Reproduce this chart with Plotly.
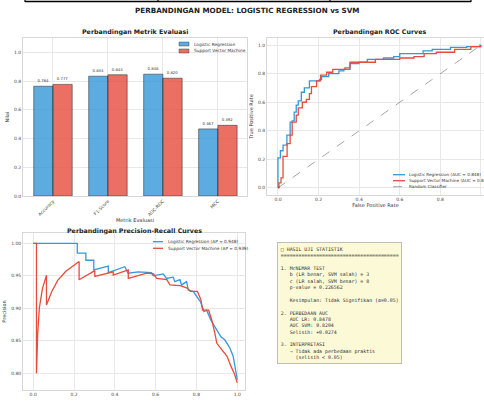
import plotly.graph_objects as go

# ---------------- data ----------------
metrics = ["Accuracy", "F1-Score", "AUC-ROC", "MCC"]
lr_scores = [0.764, 0.834, 0.848, 0.467]
svm_scores = [0.777, 0.844, 0.820, 0.492]

fpr_lr = [0, 0, 0.012, 0.025, 0.044, 0.06, 0.07, 0.08, 0.09, 0.10, 0.115, 0.13, 0.155, 0.205, 0.215, 0.25, 0.30, 0.325, 0.355, 0.40, 0.44, 0.52, 0.57, 0.60, 0.715, 0.76, 0.85, 0.93, 0.995, 1.0]
tpr_lr = [0, 0.21, 0.26, 0.30, 0.37, 0.46, 0.47, 0.53, 0.58, 0.61, 0.67, 0.70, 0.75, 0.76, 0.78, 0.80, 0.82, 0.83, 0.87, 0.88, 0.90, 0.91, 0.92, 0.94, 0.96, 0.97, 0.985, 0.99, 1.0, 1.0]

fpr_svm = [0, 0.005, 0.015, 0.025, 0.045, 0.06, 0.07, 0.09, 0.10, 0.12, 0.14, 0.155, 0.165, 0.19, 0.21, 0.24, 0.27, 0.33, 0.355, 0.48, 0.60, 0.67, 0.72, 0.78, 0.87, 0.95, 1.0]
tpr_svm = [0, 0.035, 0.07, 0.22, 0.31, 0.37, 0.46, 0.51, 0.56, 0.60, 0.62, 0.66, 0.71, 0.75, 0.79, 0.81, 0.83, 0.84, 0.88, 0.90, 0.91, 0.92, 0.94, 0.95, 0.97, 0.99, 1.0]

diag = [0, 1]

recall_lr = [0, 0.216, 0.216, 0.258, 0.258, 0.297, 0.297, 0.368, 0.368, 0.449, 0.465, 0.515, 0.58, 0.588, 0.637, 0.653, 0.686, 0.694, 0.719, 0.727, 0.752, 0.760, 0.784, 0.80, 0.82, 0.837, 0.85, 0.87, 0.885, 0.90, 0.92, 0.94, 0.965, 0.98, 0.99, 1.0]
precision_lr = [1.0, 1.0, 0.985, 0.985, 0.974, 0.974, 0.959, 0.965, 0.955, 0.964, 0.954, 0.956, 0.955, 0.95, 0.953, 0.946, 0.948, 0.941, 0.944, 0.936, 0.941, 0.928, 0.926, 0.918, 0.91, 0.895, 0.897, 0.882, 0.874, 0.867, 0.856, 0.851, 0.838, 0.826, 0.81, 0.79]

recall_svm = [0, 0.016, 0.016, 0.022, 0.03, 0.045, 0.065, 0.065, 0.09, 0.12, 0.16, 0.2, 0.225, 0.225, 0.302, 0.302, 0.392, 0.392, 0.466, 0.466, 0.556, 0.59, 0.605, 0.655, 0.67, 0.72, 0.755, 0.77, 0.805, 0.822, 0.83, 0.86, 0.875, 0.89, 0.9, 0.925, 0.95, 0.97, 0.985, 1.0]
precision_svm = [1.0, 1.0, 0.80, 0.86, 0.90, 0.93, 0.951, 0.905, 0.925, 0.943, 0.957, 0.966, 0.972, 0.944, 0.958, 0.949, 0.956, 0.951, 0.959, 0.946, 0.954, 0.953, 0.946, 0.944, 0.936, 0.935, 0.931, 0.926, 0.926, 0.913, 0.897, 0.897, 0.882, 0.862, 0.846, 0.836, 0.826, 0.81, 0.80, 0.785]

auc_lr, auc_svm = 0.848, 0.820
ap_lr, ap_svm = 0.948, 0.939

stats_lines = [
    "□ HASIL UJI STATISTIK",
    "=" * 40,
    "",
    "1. McNEMAR TEST",
    "   b (LR benar, SVM salah) = 3",
    "   c (LR salah, SVM benar) = 8",
    "   p-value = 0.226562",
    "",
    "   Kesimpulan: Tidak Signifikan (α=0.05)",
    "",
    "2. PERBEDAAN AUC",
    "   AUC LR: 0.8478",
    "   AUC SVM: 0.8204",
    "   Selisih: +0.0274",
    "",
    "3. INTERPRETASI",
    "   → Tidak ada perbedaan praktis",
    "     (selisih < 0.05)",
]

BLUE = "#3498db"
RED = "#e74c3c"
W, H = 484, 401
FONT = "DejaVu Sans, Liberation Sans, sans-serif"

def X(px):
    return px / W

def Y(py):
    return 1 - py / H

fig = go.Figure()

# ---- bar chart ----
fig.add_trace(go.Bar(x=metrics, y=lr_scores, name="Logistic Regression",
                     marker=dict(color=BLUE, opacity=0.8, line=dict(color="rgba(0,0,0,0.7)", width=0.8)),
                     texttemplate="%{y:.3f}", textposition="outside", constraintext="none",
                     textfont=dict(size=3.8, color="#333"), cliponaxis=False,
                     xaxis="x", yaxis="y", showlegend=False))
fig.add_trace(go.Bar(x=metrics, y=svm_scores, name="Support Vector Machine",
                     marker=dict(color=RED, opacity=0.8, line=dict(color="rgba(0,0,0,0.7)", width=0.8)),
                     texttemplate="%{y:.3f}", textposition="outside", constraintext="none",
                     textfont=dict(size=3.8, color="#333"), cliponaxis=False,
                     xaxis="x", yaxis="y", showlegend=False))

# ---- ROC ----
fig.add_trace(go.Scatter(x=fpr_lr, y=tpr_lr, mode="lines", line=dict(color=BLUE, width=1.3, shape="hv"),
                         xaxis="x2", yaxis="y2", showlegend=False))
fig.add_trace(go.Scatter(x=fpr_svm, y=tpr_svm, mode="lines", line=dict(color=RED, width=1.3, shape="hv"),
                         xaxis="x2", yaxis="y2", showlegend=False))
fig.add_trace(go.Scatter(x=diag, y=diag, mode="lines", line=dict(color="rgba(0,0,0,0.45)", width=0.8, dash="dash"),
                         xaxis="x2", yaxis="y2", showlegend=False))

# ---- PR ----
fig.add_trace(go.Scatter(x=recall_lr, y=precision_lr, mode="lines", line=dict(color=BLUE, width=1.3),
                         xaxis="x3", yaxis="y3", showlegend=False))
fig.add_trace(go.Scatter(x=recall_svm, y=precision_svm, mode="lines", line=dict(color=RED, width=1.3),
                         xaxis="x3", yaxis="y3", showlegend=False))

grid = "#e8e8e8"
axis_common = dict(showgrid=True, gridcolor=grid, gridwidth=0.6, zeroline=False, showline=True,
                   linecolor="#d8d8d8", linewidth=0.8, mirror=True, ticks="", automargin=False,
                   tickfont=dict(size=4.5, color="#444", family=FONT))
title_font = dict(size=5, color="#333", family=FONT)

fig.update_layout(
    template="none",
    width=W, height=H, margin=dict(l=0, r=0, t=0, b=0, autoexpand=False),
    paper_bgcolor="white", plot_bgcolor="white",
    font=dict(family=FONT),
    barmode="group", bargap=0.3, bargroupgap=0,
    xaxis=dict(domain=[X(23), X(247)], anchor="y", range=[-0.545, 3.53], tickangle=-45,
               title=dict(text="Metrik Evaluasi", font=title_font, standoff=2), **axis_common),
    yaxis=dict(domain=[Y(196), Y(38)], anchor="x", range=[0, 1.1], tickvals=[0, 0.2, 0.4, 0.6, 0.8, 1.0],
               tickformat=".1f", title=dict(text="Nilai", font=title_font, standoff=4), **axis_common),
    xaxis2=dict(domain=[X(267), 1.0], anchor="y2", range=[-0.054, 1.015], tickvals=[0, 0.2, 0.4, 0.6, 0.8, 1.0],
                tickformat=".1f", title=dict(text="False Positive Rate", font=title_font, standoff=2), **axis_common),
    yaxis2=dict(domain=[Y(195), Y(38)], anchor="x2", range=[-0.05, 1.05], tickvals=[0, 0.2, 0.4, 0.6, 0.8, 1.0],
                tickformat=".1f", title=dict(text="True Positive Rate", font=title_font, standoff=4), **axis_common),
    xaxis3=dict(domain=[X(23), X(245)], anchor="y3", range=[-0.05, 1.038], tickvals=[0, 0.2, 0.4, 0.6, 0.8, 1.0],
                tickformat=".1f", **axis_common),
    yaxis3=dict(domain=[Y(390), Y(233)], anchor="x3", range=[0.774, 1.016],
                tickvals=[0.80, 0.85, 0.90, 0.95, 1.00], tickformat=".2f",
                title=dict(text="Precision", font=title_font, standoff=4), **axis_common),
)

ann = []
shapes = []

def txt(px, py, text, size=4.5, bold=False, xanchor="left", color="#333", family=FONT):
    ann.append(dict(xref="paper", yref="paper", x=X(px), y=Y(py), text=f"<b>{text}</b>" if bold else text,
                    showarrow=False, xanchor=xanchor, yanchor="middle",
                    font=dict(size=size, color=color, family=family)))

# titles
txt(247, 10, "PERBANDINGAN MODEL: LOGISTIC REGRESSION vs SVM", size=7.2, bold=True, xanchor="center", color="#222")
txt(135, 32, "Perbandingan Metrik Evaluasi", size=6.3, bold=True, xanchor="center", color="#222")
txt(379, 32, "Perbandingan ROC Curves", size=6.3, bold=True, xanchor="center", color="#222")
txt(134, 231, "Perbandingan Precision-Recall Curves", size=6.3, bold=True, xanchor="center", color="#222")

# top cropped frame
shapes.append(dict(type="line", xref="paper", yref="paper", x0=X(25), x1=X(471), y0=Y(1.5), y1=Y(1.5),
                   line=dict(color="black", width=1.6)))
for vx in [25, 158, 330, 471]:
    shapes.append(dict(type="line", xref="paper", yref="paper", x0=X(vx), x1=X(vx), y0=Y(0), y1=Y(2),
                       line=dict(color="black", width=1.2)))

# bar legend
for i, (c, name) in enumerate([(BLUE, "Logistic Regression"), (RED, "Support Vector Machine")]):
    yc = 44 + i * 7
    shapes.append(dict(type="rect", xref="paper", yref="paper", x0=X(179), x1=X(189), y0=Y(yc + 2), y1=Y(yc - 2),
                       fillcolor=c, opacity=0.8, line=dict(color="rgba(0,0,0,0.7)", width=0.6), layer="above"))
    txt(192, yc, name, size=4.3)

# ROC legend
roc_leg = [(BLUE, "solid", f"Logistic Regression (AUC = {auc_lr:.3f})"),
           (RED, "solid", f"Support Vector Machine (AUC = {auc_svm:.3f})"),
           ("rgba(0,0,0,0.45)", "dash", "Random Classifier")]
for i, (c, d, name) in enumerate(roc_leg):
    yc = 174.7 + i * 6
    shapes.append(dict(type="line", xref="paper", yref="paper", x0=X(393), x1=X(405), y0=Y(yc), y1=Y(yc),
                       line=dict(color=c, width=1.3 if d == "solid" else 0.8, dash=d), layer="above"))
    txt(407, yc, name, size=4.2)

# PR legend
pr_leg = [(BLUE, f"Logistic Regression (AP = {ap_lr:.3f})"),
          (RED, f"Support Vector Machine (AP = {ap_svm:.3f})")]
for i, (c, name) in enumerate(pr_leg):
    yc = 241.7 + i * 6.6
    shapes.append(dict(type="line", xref="paper", yref="paper", x0=X(153), x1=X(163), y0=Y(yc), y1=Y(yc),
                       line=dict(color=c, width=1.3), layer="above"))
    txt(166, yc, name, size=4.3)

# stats box
ann.append(dict(xref="paper", yref="paper", x=X(277), y=Y(242), xanchor="left", yanchor="top",
                text="<br>".join(s if s else " " for s in stats_lines), align="left", showarrow=False,
                font=dict(size=4.9, color="#333", family="DejaVu Sans Mono, monospace"),
                bgcolor="#fcf9d6", bordercolor="#b0b0b0", borderwidth=0.8, borderpad=3))

fig.update_layout(annotations=ann, shapes=shapes)
fig.write_html("out.html", config={"displayModeBar": False},
               post_script="document.body.style.margin='0';document.body.style.overflow='hidden';")
